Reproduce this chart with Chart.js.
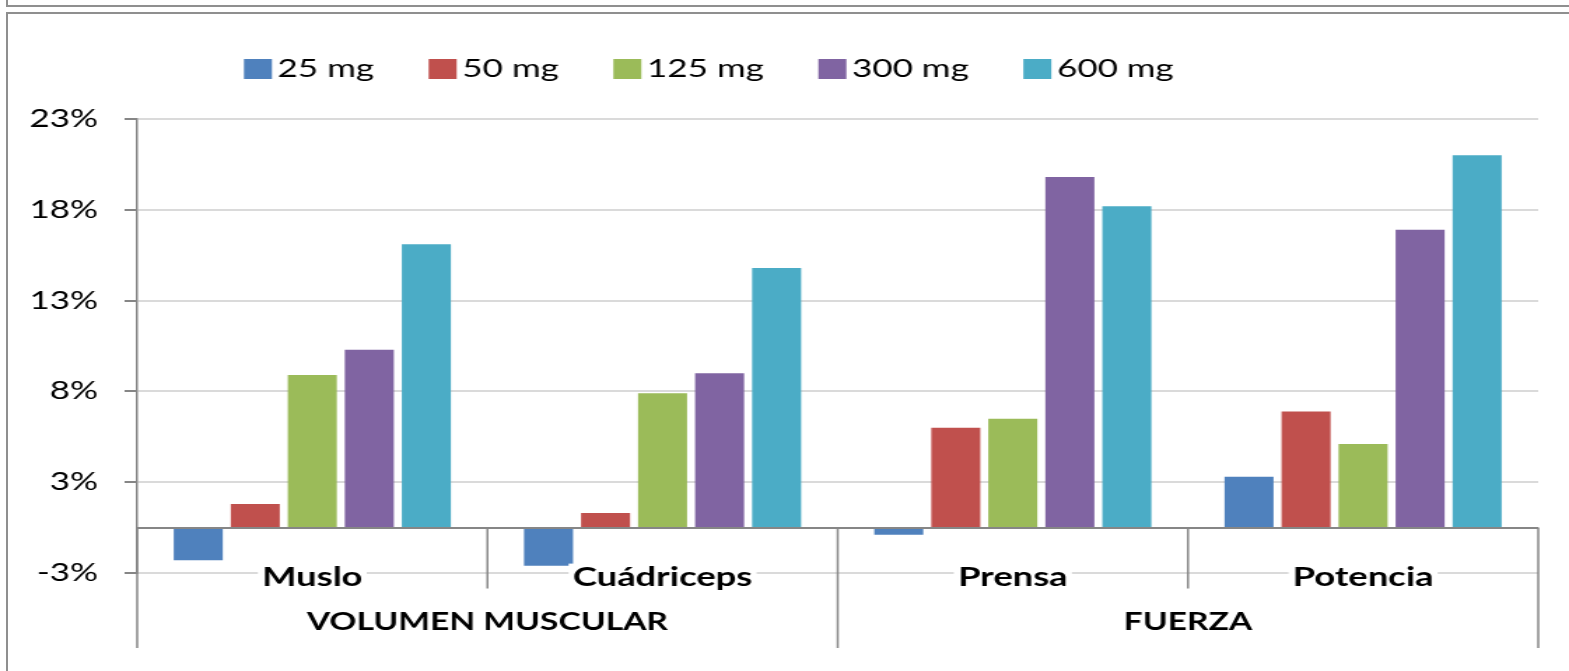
<!DOCTYPE html>
<html>
<head>
<meta charset="utf-8">
<title>Volumen muscular y fuerza por dosis</title>
<script src="https://cdn.jsdelivr.net/npm/chart.js@4/dist/chart.umd.min.js"></script>
<style>
  html, body { margin: 0; padding: 0; background: #fff; width: 1569px; height: 671px; overflow: hidden; }
  .box { position: absolute; border: 2px solid #8f8f8f; box-sizing: border-box; }
  #upper { left: 6px; top: -20px; width: 1600px; height: 27px; }
  #frame { left: 6px; top: 12px; width: 1600px; height: 700px; }
  /* the chart is drawn on a narrower canvas and widened horizontally */
  #wrap { position: absolute; left: 0; top: 0; width: 1121px; height: 671px;
          transform-origin: 0 0; transform: scaleX(1.39964); }
</style>
</head>
<body>
<div id="upper" class="box"></div>
<div id="frame" class="box"></div>
<div id="wrap"><canvas id="c" width="1121" height="671"></canvas></div>
<script>
// categories and their two-level grouping
const categories = ['Muslo', 'Cuádriceps', 'Prensa', 'Potencia'];
const groupLabels = ['VOLUMEN MUSCULAR', 'FUERZA'];
const groupSizes = [2, 2];

// series (dose) names and percentage change per category
const seriesNames = ['25 mg', '50 mg', '125 mg', '300 mg', '600 mg'];
const dose25  = [-1.8, -2.1, -0.4, 2.8];
const dose50  = [1.3, 0.8, 5.5, 6.4];
const dose125 = [8.4, 7.4, 6.0, 4.6];
const dose300 = [9.8, 8.5, 19.3, 16.4];
const dose600 = [15.6, 14.3, 17.7, 20.5];
const seriesValues = [dose25, dose50, dose125, dose300, dose600];

// value-axis ticks and their printed labels
const tickValues = [-2.5, 2.5, 7.5, 12.5, 17.5, 22.5];
const tickLabels = ['-3%', '3%', '8%', '13%', '18%', '23%'];

const barColors = ['#4F81BD', '#C0504D', '#9BBB59', '#8064A2', '#4BACC6'];
const axisGray = '#868686';

// legend row above the plot
const doseLegend = {
  id: 'doseLegend',
  afterDraw(chart) {
    const ctx = chart.ctx;
    ctx.save();
    ctx.font = '25px Lato';
    ctx.textBaseline = 'middle';
    ctx.textAlign = 'left';
    let x = 174.3;
    const yc = 69;
    chart.data.datasets.forEach(ds => {
      ctx.fillStyle = ds.backgroundColor;
      ctx.fillRect(x, yc - 10, 20, 20);
      x += 24;
      ctx.fillStyle = '#000';
      ctx.fillText(ds.label, x, yc);
      x += ctx.measureText(ds.label).width + 39;
    });
    ctx.restore();
  }
};

// zero line, category dividers and the two rows of category labels
const categoryAxis = {
  id: 'categoryAxis',
  afterDatasetsDraw(chart) {
    const { ctx, chartArea } = chart;
    const xs = chart.scales.x, ys = chart.scales.y;
    const y0 = ys.getPixelForValue(0);
    const n = categories.length;
    const bounds = [];
    for (let i = 0; i <= n; i++) {
      if (i === 0) bounds.push(xs.left);
      else if (i === n) bounds.push(xs.right);
      else bounds.push((xs.getPixelForValue(i - 1) + xs.getPixelForValue(i)) / 2);
    }
    const groupEdges = [0];
    groupSizes.forEach(s => groupEdges.push(groupEdges[groupEdges.length - 1] + s));

    ctx.save();
    ctx.strokeStyle = axisGray;

    // category labels (white backing hides the gridline behind them)
    ctx.font = 'bold 26px Lato';
    ctx.textAlign = 'center';
    ctx.textBaseline = 'middle';
    const labelY = y0 + 50;
    categories.forEach((c, i) => {
      const cx = xs.getPixelForValue(i);
      const w = ctx.measureText(c).width;
      ctx.fillStyle = '#fff';
      ctx.fillRect(cx - w / 2 - 3, labelY - 14, w + 6, 28);
      ctx.fillStyle = '#000';
      ctx.fillText(c, cx, labelY);
    });

    // group labels
    ctx.font = 'bold 24px Lato';
    groupLabels.forEach((g, k) => {
      const cx = (bounds[groupEdges[k]] + bounds[groupEdges[k + 1]]) / 2;
      ctx.fillText(g, cx, y0 + 95);
    });

    // dividers
    ctx.lineWidth = 1.5;
    bounds.forEach((bx, i) => {
      const isGroupEdge = groupEdges.includes(i);
      const bottom = isGroupEdge ? chartArea.bottom + 75 : y0 + 61;
      ctx.beginPath();
      ctx.moveTo(bx, y0);
      ctx.lineTo(bx, bottom);
      ctx.stroke();
    });

    // horizontal axis line at zero
    ctx.lineWidth = 2;
    ctx.beginPath();
    ctx.moveTo(xs.left, Math.round(y0));
    ctx.lineTo(xs.right, Math.round(y0));
    ctx.stroke();
    ctx.restore();
  }
};

new Chart(document.getElementById('c'), {
  type: 'bar',
  data: {
    labels: categories,
    datasets: seriesNames.map((name, i) => ({
      label: name,
      data: seriesValues[i],
      backgroundColor: barColors[i],
      borderWidth: 0,
      categoryPercentage: 0.814,
      barPercentage: 0.86
    }))
  },
  options: {
    responsive: false,
    animation: false,
    devicePixelRatio: 1,
    layout: { padding: { left: 0, right: 22, top: 119, bottom: 98 } },
    plugins: {
      legend: { display: false },
      tooltip: { enabled: false }
    },
    scales: {
      x: { display: false },
      y: {
        min: -2.5,
        max: 22.5,
        afterBuildTicks: s => { s.ticks = tickValues.map(v => ({ value: v })); },
        afterFit: s => { s.width = 98; },
        border: { color: axisGray, width: 1.5 },
        grid: { color: '#dadada', lineWidth: 2, tickLength: 9, tickColor: axisGray, tickWidth: 2 },
        ticks: {
          font: { family: 'Lato', size: 25 },
          color: '#000',
          padding: 19,
          callback: (v, i) => tickLabels[i]
        }
      }
    }
  },
  plugins: [categoryAxis, doseLegend]
});
</script>
</body>
</html>
